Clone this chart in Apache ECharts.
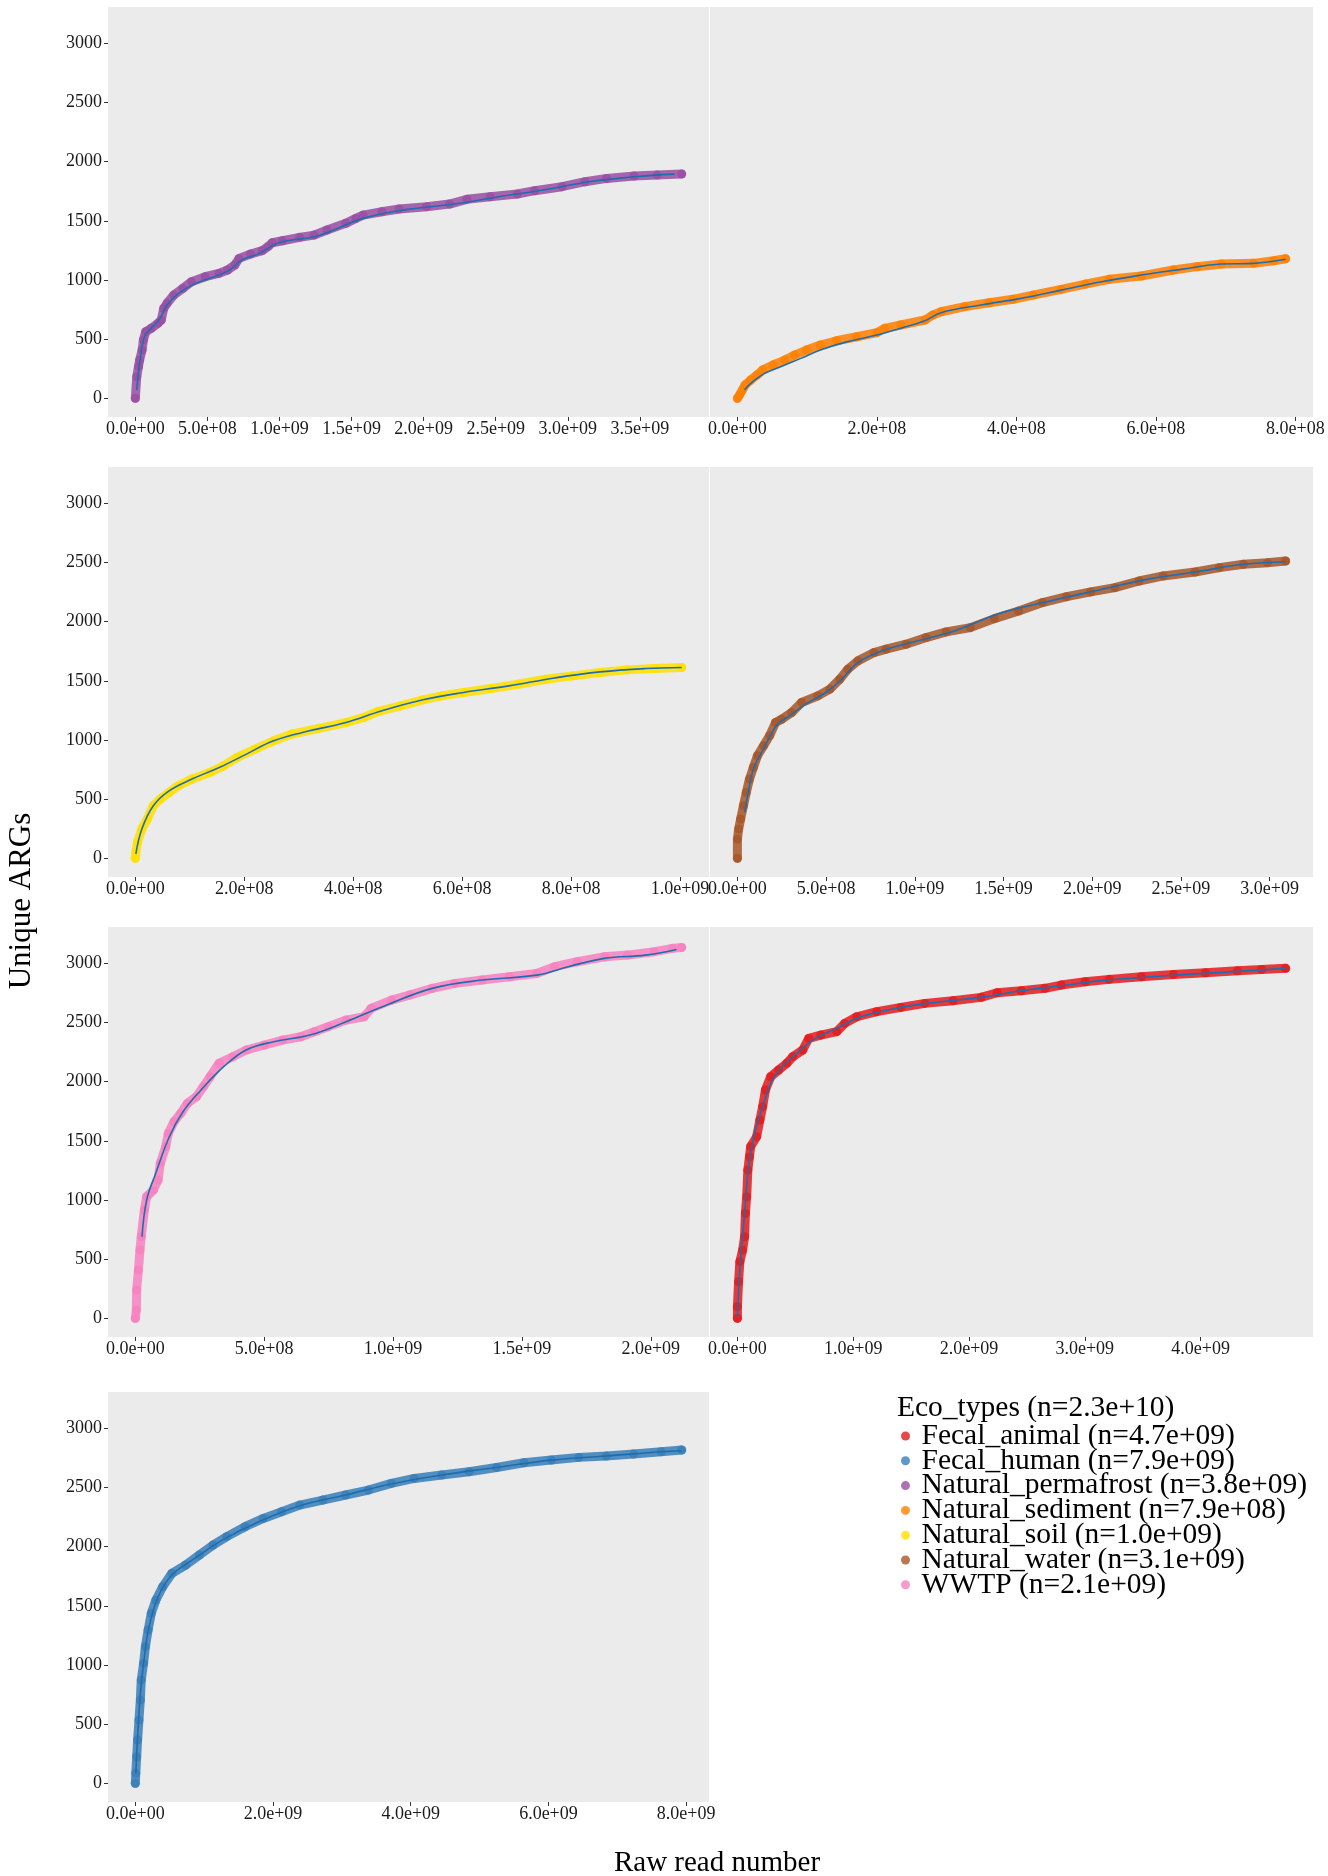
<!DOCTYPE html>
<html>
<head>
<meta charset="utf-8">
<script src="https://cdn.jsdelivr.net/npm/echarts@6/dist/echarts.min.js"></script>
<style>
  html, body { margin: 0; padding: 0; background: #fff; }
  #chart { width: 1328px; height: 1876px; }
</style>
</head>
<body>
<div id="chart"></div>
<script>
// rarefaction points: [raw reads, unique ARGs]
const permafrostPts = [[0,0],[0.01e9,183],[0.022e9,268],[0.03e9,324],[0.047e9,408],[0.056e9,493],[0.072e9,563],[0.11e9,592],[0.157e9,634],[0.18e9,662],[0.197e9,760],[0.22e9,803],[0.266e9,873],[0.33e9,930],[0.39e9,986],[0.485e9,1028],[0.58e9,1056],[0.64e9,1085],[0.69e9,1127],[0.72e9,1183],[0.8e9,1220],[0.88e9,1248],[0.92e9,1282],[0.95e9,1315],[1.02e9,1332],[1.14e9,1361],[1.24e9,1380],[1.33e9,1423],[1.46e9,1479],[1.53e9,1521],[1.58e9,1549],[1.71e9,1577],[1.83e9,1600],[2.02e9,1620],[2.18e9,1642],[2.3e9,1682],[2.46e9,1704],[2.65e9,1727],[2.77e9,1755],[2.96e9,1789],[3.12e9,1831],[3.27e9,1859],[3.46e9,1879],[3.62e9,1887],[3.79e9,1896]];
const permafrostFit = [[0.01e9,70],[0.03e9,296],[0.063e9,521],[0.11e9,592],[0.172e9,676],[0.22e9,789],[0.3e9,887],[0.42e9,972],[0.58e9,1042],[0.66e9,1090],[0.74e9,1169],[0.86e9,1225],[0.94e9,1282],[1.02e9,1324],[1.27e9,1375],[1.58e9,1521],[1.89e9,1597],[2.21e9,1642],[2.52e9,1704],[2.83e9,1761],[3.15e9,1831],[3.46e9,1873],[3.74e9,1895]];

const sedimentPts = [[0,0],[0.03e8,28],[0.07e8,70],[0.11e8,113],[0.19e8,155],[0.28e8,197],[0.36e8,239],[0.51e8,282],[0.68e8,324],[0.82e8,366],[0.99e8,408],[1.19e8,451],[1.42e8,487],[1.71e8,521],[2.0e8,555],[2.11e8,592],[2.34e8,620],[2.69e8,662],[2.8e8,704],[2.92e8,732],[3.26e8,775],[3.61e8,808],[3.95e8,837],[4.24e8,873],[4.64e8,921],[4.99e8,966],[5.33e8,1006],[5.79e8,1034],[6.25e8,1085],[6.59e8,1113],[6.94e8,1135],[7.4e8,1141],[7.69e8,1163],[7.86e8,1180]];
const sedimentFit = [[0.1e8,70],[0.22e8,141],[0.39e8,211],[0.62e8,268],[0.91e8,338],[1.19e8,408],[1.54e8,473],[2.0e8,535],[2.34e8,592],[2.69e8,656],[2.92e8,724],[3.49e8,789],[4.07e8,845],[4.64e8,915],[5.22e8,986],[5.79e8,1042],[6.36e8,1090],[6.94e8,1135],[7.4e8,1141],[7.86e8,1175]];

const soilPts = [[0,0],[0.01e8,51],[0.04e8,135],[0.12e8,248],[0.22e8,332],[0.33e8,445],[0.46e8,501],[0.62e8,557],[0.79e8,614],[1.04e8,670],[1.37e8,726],[1.62e8,782],[1.87e8,853],[2.2e8,923],[2.54e8,994],[2.87e8,1050],[3.37e8,1098],[3.87e8,1148],[4.2e8,1191],[4.45e8,1241],[4.87e8,1289],[5.28e8,1340],[5.62e8,1373],[6.03e8,1402],[6.53e8,1435],[7.03e8,1472],[7.53e8,1514],[8.03e8,1542],[8.53e8,1570],[9.03e8,1593],[9.53e8,1604],[10.03e8,1613]];
const soilFit = [[0.01e8,37],[0.12e8,248],[0.33e8,445],[0.62e8,571],[1.04e8,670],[1.54e8,768],[2.04e8,881],[2.54e8,994],[3.2e8,1078],[3.87e8,1148],[4.53e8,1247],[5.28e8,1340],[6.03e8,1402],[6.86e8,1458],[7.7e8,1525],[8.53e8,1576],[9.36e8,1604],[10.03e8,1613]];

const waterPts = [[0,0],[0,163],[0.007e9,248],[0.018e9,332],[0.034e9,445],[0.05e9,557],[0.068e9,670],[0.09e9,768],[0.113e9,867],[0.147e9,951],[0.181e9,1036],[0.215e9,1148],[0.249e9,1176],[0.306e9,1233],[0.362e9,1317],[0.453e9,1373],[0.521e9,1430],[0.577e9,1514],[0.623e9,1599],[0.679e9,1669],[0.77e9,1739],[0.838e9,1768],[0.951e9,1810],[1.064e9,1866],[1.177e9,1914],[1.313e9,1950],[1.449e9,2026],[1.585e9,2091],[1.72e9,2162],[1.856e9,2212],[1.992e9,2252],[2.128e9,2288],[2.264e9,2344],[2.4e9,2387],[2.58e9,2420],[2.717e9,2457],[2.853e9,2485],[2.988e9,2499],[3.09e9,2513]];
const waterFit = [[0.041e9,388],[0.057e9,529],[0.09e9,754],[0.136e9,895],[0.181e9,1022],[0.226e9,1134],[0.294e9,1205],[0.385e9,1303],[0.498e9,1402],[0.589e9,1514],[0.679e9,1655],[0.815e9,1754],[0.996e9,1830],[1.223e9,1922],[1.494e9,2077],[1.766e9,2176],[2.038e9,2268],[2.309e9,2358],[2.58e9,2420],[2.853e9,2485],[3.09e9,2507]];

const wwtpPts = [[0,0],[0.004e9,70],[0.005e9,239],[0.012e9,408],[0.018e9,577],[0.023e9,690],[0.035e9,915],[0.044e9,1028],[0.07e9,1085],[0.088e9,1169],[0.097e9,1310],[0.118e9,1451],[0.128e9,1563],[0.15e9,1662],[0.176e9,1732],[0.202e9,1817],[0.237e9,1873],[0.264e9,1958],[0.29e9,2042],[0.325e9,2155],[0.378e9,2211],[0.431e9,2268],[0.501e9,2310],[0.572e9,2352],[0.642e9,2380],[0.695e9,2423],[0.748e9,2465],[0.818e9,2521],[0.888e9,2549],[0.915e9,2620],[0.994e9,2690],[1.064e9,2732],[1.152e9,2789],[1.24e9,2831],[1.346e9,2859],[1.451e9,2887],[1.557e9,2915],[1.627e9,2972],[1.715e9,3014],[1.821e9,3056],[1.909e9,3070],[2.014e9,3099],[2.084e9,3127],[2.12e9,3135]];
const wwtpFit = [[0.026e9,690],[0.044e9,1000],[0.079e9,1225],[0.132e9,1535],[0.185e9,1746],[0.255e9,1930],[0.343e9,2127],[0.43e9,2268],[0.537e9,2338],[0.677e9,2394],[0.818e9,2507],[0.959e9,2634],[1.152e9,2789],[1.346e9,2859],[1.557e9,2901],[1.68e9,2972],[1.82e9,3042],[1.979e9,3070],[2.1e9,3118]];

const animalPts = [[0,0],[0,99],[0.01e9,310],[0.021e9,479],[0.045e9,577],[0.062e9,690],[0.069e9,887],[0.08e9,1028],[0.09e9,1254],[0.104e9,1366],[0.114e9,1451],[0.166e9,1535],[0.194e9,1676],[0.218e9,1789],[0.242e9,1930],[0.287e9,2042],[0.356e9,2099],[0.426e9,2155],[0.478e9,2211],[0.564e9,2268],[0.616e9,2366],[0.72e9,2394],[0.858e9,2423],[0.927e9,2493],[1.031e9,2549],[1.204e9,2592],[1.412e9,2628],[1.619e9,2662],[1.862e9,2685],[2.104e9,2713],[2.242e9,2752],[2.45e9,2769],[2.657e9,2789],[2.796e9,2817],[3.003e9,2845],[3.211e9,2865],[3.488e9,2887],[3.765e9,2907],[4.042e9,2921],[4.318e9,2938],[4.526e9,2949],[4.734e9,2958]];
const animalFit = [[0,14],[0.021e9,408],[0.045e9,690],[0.069e9,972],[0.097e9,1282],[0.149e9,1563],[0.218e9,1789],[0.287e9,1986],[0.374e9,2113],[0.512e9,2239],[0.65e9,2352],[0.858e9,2451],[1.066e9,2549],[1.412e9,2628],[1.758e9,2676],[2.104e9,2713],[2.45e9,2769],[2.796e9,2811],[3.142e9,2854],[3.661e9,2893],[4.18e9,2924],[4.734e9,2958]];

const humanPts = [[0,0],[0.007e9,85],[0.02e9,225],[0.033e9,366],[0.053e9,535],[0.073e9,704],[0.086e9,873],[0.12e9,1014],[0.146e9,1155],[0.186e9,1296],[0.232e9,1437],[0.299e9,1549],[0.398e9,1662],[0.531e9,1775],[0.73e9,1845],[0.93e9,1930],[1.129e9,2014],[1.328e9,2085],[1.594e9,2169],[1.859e9,2239],[2.125e9,2296],[2.39e9,2352],[2.722e9,2394],[3.054e9,2437],[3.386e9,2479],[3.718e9,2535],[4.05e9,2577],[4.449e9,2606],[4.847e9,2634],[5.246e9,2670],[5.644e9,2710],[6.042e9,2732],[6.441e9,2755],[6.839e9,2766],[7.238e9,2783],[7.636e9,2803],[7.935e9,2817]];
const humanFit = [[0.007e9,85],[0.066e9,704],[0.12e9,1014],[0.2e9,1324],[0.332e9,1577],[0.531e9,1761],[0.863e9,1901],[1.262e9,2056],[1.793e9,2211],[2.39e9,2346],[3.054e9,2437],[3.718e9,2530],[4.449e9,2606],[5.246e9,2670],[6.042e9,2732],[6.839e9,2766],[7.636e9,2803],[7.935e9,2811]];

// tick labels
const yTicks = [0, 500, 1000, 1500, 2000, 2500, 3000];
const ticksHalfE9 = [0, 0.5e9, 1.0e9, 1.5e9, 2.0e9, 2.5e9, 3.0e9, 3.5e9];
const ticks2E8 = [0, 2e8, 4e8, 6e8, 8e8, 10e8];
const ticksHalfE9Short = [0, 0.5e9, 1.0e9, 1.5e9, 2.0e9];
const ticks1E9 = [0, 1e9, 2e9, 3e9, 4e9];
const ticks2E9 = [0, 2e9, 4e9, 6e9, 8e9];

// legend
const legendTitle = 'Eco_types (n=2.3e+10)';
const ecoNames = ['Fecal_animal (n=4.7e+09)', 'Fecal_human (n=7.9e+09)', 'Natural_permafrost (n=3.8e+09)', 'Natural_sediment (n=7.9e+08)', 'Natural_soil (n=1.0e+09)', 'Natural_water (n=3.1e+09)', 'WWTP (n=2.1e+09)'];
const ecoColors = ['#E41A1C', '#377EB8', '#984EA3', '#FF7F00', '#FFE100', '#A65628', '#F781BF'];

const FONT = '"Liberation Serif", "Times New Roman", serif';
const FIT_COLOR = '#1F6DAE';

// facet order as drawn: [points, fit, x ticks, eco index]
const panels = [
  [permafrostPts, permafrostFit, ticksHalfE9, 2],
  [sedimentPts, sedimentFit, ticks2E8.slice(0, 5), 3],
  [soilPts, soilFit, ticks2E8, 4],
  [waterPts, waterFit, ticksHalfE9.slice(0, 7), 5],
  [wwtpPts, wwtpFit, ticksHalfE9Short, 6],
  [animalPts, animalFit, ticks1E9, 0],
  [humanPts, humanFit, ticks2E9, 1]
];

const colBox = [{ left: 108, width: 601 }, { left: 710, width: 603 }];
const rowTop = [7, 467, 927, 1392];
const PANEL_H = 410;

// shared y scale, ggplot-style 5% expansion of [0, 3150]
const yLo = -157.5, yHi = 3307.5;

function sci(v) {
  if (v === 0) return '0.0e+00';
  const e = Math.floor(Math.log10(Math.abs(v)) + 1e-9);
  const m = v / Math.pow(10, e);
  return m.toFixed(1) + 'e+' + String(e).padStart(2, '0');
}

const chart = echarts.init(document.getElementById('chart'));

const grid = [], xAxis = [], yAxis = [], series = [];
panels.forEach(([pts, fit, ticks, k], i) => {
  const col = i % 2, row = Math.floor(i / 2);
  grid.push({
    left: colBox[col].left, width: colBox[col].width,
    top: rowTop[row], height: PANEL_H,
    show: true, backgroundColor: '#EBEBEB', borderWidth: 0
  });
  const xMax = Math.max(...pts.map(p => p[0]));
  xAxis.push({
    type: 'value', gridIndex: i,
    min: -0.05 * xMax, max: 1.05 * xMax,
    axisLine: { show: false, onZero: false },
    splitLine: { show: false },
    axisTick: { show: true, length: 4, customValues: ticks, lineStyle: { color: '#333', width: 1 } },
    axisLabel: { customValues: ticks, formatter: sci, margin: 3, fontSize: 18, fontFamily: FONT, color: '#1a1a1a' }
  });
  yAxis.push({
    type: 'value', gridIndex: i, min: yLo, max: yHi,
    show: col === 0,
    axisLine: { show: false, onZero: false },
    splitLine: { show: false },
    axisTick: { show: true, length: 4, customValues: yTicks, lineStyle: { color: '#333', width: 1 } },
    axisLabel: { customValues: yTicks, formatter: v => String(v), margin: 6, fontSize: 18, fontFamily: FONT, color: '#1a1a1a' }
  });
  const c = ecoColors[k];
  // dense band of overlapping points
  series.push({
    type: 'line', xAxisIndex: i, yAxisIndex: i, data: pts,
    showSymbol: false, silent: true, z: 1,
    lineStyle: { color: c, width: 9, opacity: 0.85, cap: 'round', join: 'round' }
  });
  series.push({
    type: 'scatter', name: ecoNames[k], xAxisIndex: i, yAxisIndex: i, data: pts,
    symbolSize: 9, z: 2,
    itemStyle: { color: c, opacity: 0.8 }
  });
  series.push({
    type: 'line', xAxisIndex: i, yAxisIndex: i, data: fit,
    smooth: 0.4, showSymbol: false, silent: true, z: 3,
    lineStyle: { color: FIT_COLOR, width: 1.6 }
  });
});

chart.setOption({
  animation: false,
  backgroundColor: '#ffffff',
  grid, xAxis, yAxis, series,
  legend: {
    data: ecoNames.map(n => ({ name: n, icon: 'circle' })),
    orient: 'vertical', left: 896, top: 1416,
    itemWidth: 22, itemHeight: 9, itemGap: -5.2,
    selectedMode: false,
    textStyle: { fontSize: 29.5, fontFamily: FONT, color: '#000' }
  },
  graphic: [
    { type: 'text', x: 897, y: 1408, style: { text: legendTitle, font: '29.5px ' + FONT, fill: '#000', align: 'left', verticalAlign: 'middle' } },
    { type: 'text', x: 22, y: 901, rotation: Math.PI / 2, style: { text: 'Unique ARGs', font: '31px ' + FONT, fill: '#000', align: 'center', verticalAlign: 'middle' } },
    { type: 'text', x: 717, y: 1863, style: { text: 'Raw read number', font: '29px ' + FONT, fill: '#000', align: 'center', verticalAlign: 'middle' } }
  ]
});
</script>
</body>
</html>
